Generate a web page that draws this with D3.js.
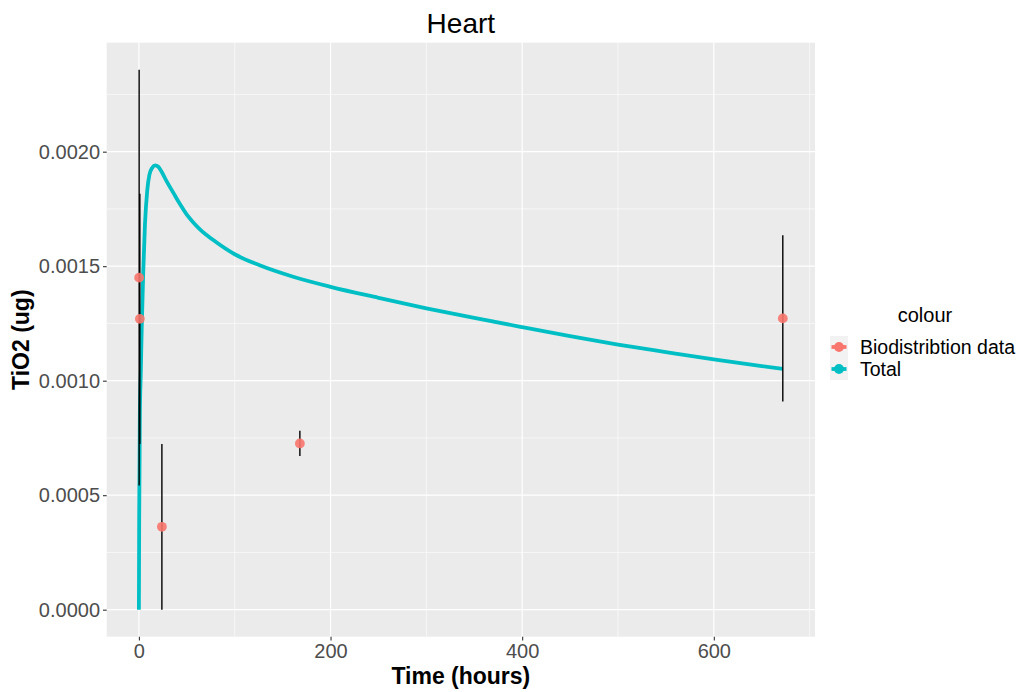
<!DOCTYPE html>
<html>
<head>
<meta charset="utf-8">
<script src="https://cdn.jsdelivr.net/npm/d3@7"></script>
<style>
  html, body { margin: 0; padding: 0; background: #ffffff; }
  svg { display: block; }
  text { font-family: "Liberation Sans", Arial, sans-serif; }
</style>
</head>
<body>
<svg id="chart" width="1030" height="692"></svg>
<script>
// ---- data ----
const chartTitle = "Heart";
const xTitle = "Time (hours)";
const yTitle = "TiO2 (ug)";
const legendTitle = "colour";
const seriesNames = ["Biodistribtion data", "Total"];
const seriesColors = ["#F8766D", "#00BFC4"];

// Biodistribution data (mean ± sd)
const bioTime = [0.25, 1, 24, 168, 672];
const bioMean = [0.00145, 0.00127, 0.000362, 0.000726, 0.001272];
const bioSD   = [0.000908, 0.000546, 0.000362, 0.000055, 0.000363];

// Model "Total" curve
const totalTime = [0, 0.3, 1, 2, 3, 4.5, 6.3, 8.7, 11, 14, 17, 20, 24, 29, 36, 43, 50, 57, 64, 78, 100, 126, 161, 200, 250, 300, 350, 400, 450, 500, 550, 600, 650, 672];
const totalVal  = [0, 0.0004, 0.00085, 0.00104, 0.00124, 0.00147, 0.00168, 0.00183, 0.0019, 0.00193, 0.00194, 0.001935, 0.00191, 0.00187, 0.00182, 0.00177, 0.001725, 0.00169, 0.00166, 0.001613, 0.001552, 0.001504, 0.001454, 0.00141, 0.001362, 0.001316, 0.001274, 0.001234, 0.001195, 0.001158, 0.001125, 0.001093, 0.001064, 0.001052];

const xTicks = [0, 200, 400, 600];
const xMinor = [100, 300, 500, 700];
const yTicks = [0, 0.0005, 0.001, 0.0015, 0.002];
const yMinor = [0.00025, 0.00075, 0.00125, 0.00175, 0.00225];

// ---- layout ----
const panel = { left: 106.7, right: 815, top: 42.7, bottom: 636.7 };
const svg = d3.select("#chart");

const bio = bioTime.map((t, i) => ({ t, m: bioMean[i], lo: bioMean[i] - bioSD[i], hi: bioMean[i] + bioSD[i] }));
const tot = totalTime.map((t, i) => ({ t, v: totalVal[i] }));

const xMin = Math.min(d3.min(bioTime), d3.min(totalTime));
const xMax = Math.max(d3.max(bioTime), d3.max(totalTime));
const xPad = (xMax - xMin) * 0.05;
const yMin = Math.min(d3.min(bio, d => d.lo), d3.min(totalVal));
const yMax = Math.max(d3.max(bio, d => d.hi), d3.max(totalVal));
const yPad = (yMax - yMin) * 0.05;

const x = d3.scaleLinear().domain([xMin - xPad, xMax + xPad]).range([panel.left, panel.right]);
const y = d3.scaleLinear().domain([yMin - yPad, yMax + yPad]).range([panel.bottom, panel.top]);

// panel background
svg.append("rect")
  .attr("x", panel.left).attr("y", panel.top)
  .attr("width", panel.right - panel.left).attr("height", panel.bottom - panel.top)
  .attr("fill", "#EBEBEB");

const grid = svg.append("g");
grid.selectAll(".ymin").data(yMinor).join("line")
  .attr("x1", panel.left).attr("x2", panel.right)
  .attr("y1", d => y(d)).attr("y2", d => y(d))
  .attr("stroke", "#ffffff").attr("stroke-width", 0.6);
grid.selectAll(".xmin").data(xMinor).join("line")
  .attr("y1", panel.top).attr("y2", panel.bottom)
  .attr("x1", d => x(d)).attr("x2", d => x(d))
  .attr("stroke", "#ffffff").attr("stroke-width", 0.6);
grid.selectAll(".ymaj").data(yTicks).join("line")
  .attr("x1", panel.left).attr("x2", panel.right)
  .attr("y1", d => y(d)).attr("y2", d => y(d))
  .attr("stroke", "#ffffff").attr("stroke-width", 1.2);
grid.selectAll(".xmaj").data(xTicks).join("line")
  .attr("y1", panel.top).attr("y2", panel.bottom)
  .attr("x1", d => x(d)).attr("x2", d => x(d))
  .attr("stroke", "#ffffff").attr("stroke-width", 1.2);

// Total line
const line = d3.line().x(d => x(d.t)).y(d => y(d.v)).curve(d3.curveMonotoneX);
svg.append("path").datum(tot)
  .attr("d", line)
  .attr("fill", "none")
  .attr("stroke", seriesColors[1])
  .attr("stroke-width", 3.8)
  .attr("stroke-linejoin", "round");

// error bars
svg.append("g").selectAll("line").data(bio).join("line")
  .attr("x1", d => x(d.t)).attr("x2", d => x(d.t))
  .attr("y1", d => y(d.lo)).attr("y2", d => y(d.hi))
  .attr("stroke", "#000000").attr("stroke-width", 1.4);

// points
svg.append("g").selectAll("circle").data(bio).join("circle")
  .attr("cx", d => x(d.t)).attr("cy", d => y(d.m))
  .attr("r", 4.9)
  .attr("fill", seriesColors[0]).attr("fill-opacity", 0.9);

// axes
const xAxis = d3.axisBottom(x).tickValues(xTicks).tickSize(3.7).tickPadding(3).tickFormat(d3.format("d"));
const gx = svg.append("g").attr("transform", `translate(0,${panel.bottom})`).call(xAxis);
gx.select(".domain").remove();
gx.selectAll(".tick line").attr("stroke", "#333333").attr("stroke-width", 1.1);
gx.selectAll(".tick text").attr("fill", "#4D4D4D").attr("font-size", 20)
  .attr("font-family", "'Liberation Sans', Arial, sans-serif");

const yAxis = d3.axisLeft(y).tickValues(yTicks).tickSize(3.7).tickPadding(3).tickFormat(d3.format(".4f"));
const gy = svg.append("g").attr("transform", `translate(${panel.left},0)`).call(yAxis);
gy.select(".domain").remove();
gy.selectAll(".tick line").attr("stroke", "#333333").attr("stroke-width", 1.1);
gy.selectAll(".tick text").attr("fill", "#4D4D4D").attr("font-size", 20)
  .attr("font-family", "'Liberation Sans', Arial, sans-serif");

// titles
svg.append("text")
  .attr("x", (panel.left + panel.right) / 2).attr("y", 33)
  .attr("text-anchor", "middle").attr("font-size", 28).attr("fill", "#000")
  .text(chartTitle);

svg.append("text")
  .attr("x", (panel.left + panel.right) / 2).attr("y", 684)
  .attr("text-anchor", "middle").attr("font-size", 23).attr("font-weight", "bold").attr("fill", "#000")
  .text(xTitle);

svg.append("text")
  .attr("transform", `translate(29,${(panel.top + panel.bottom) / 2}) rotate(-90)`)
  .attr("text-anchor", "middle").attr("font-size", 23).attr("font-weight", "bold").attr("fill", "#000")
  .text(yTitle);

// legend
const leg = svg.append("g");
leg.append("text")
  .attr("x", 925).attr("y", 322)
  .attr("text-anchor", "middle").attr("font-size", 20).attr("fill", "#000")
  .text(legendTitle);

const keyX = 830, keyW = 18, keyH = 22, keyY0 = 336;
seriesNames.forEach((name, i) => {
  const ky = keyY0 + i * keyH;
  leg.append("rect")
    .attr("x", keyX).attr("y", ky).attr("width", keyW).attr("height", keyH)
    .attr("fill", "#F2F2F2");
  leg.append("line")
    .attr("x1", keyX + 1.5).attr("x2", keyX + keyW - 1.5)
    .attr("y1", ky + keyH / 2).attr("y2", ky + keyH / 2)
    .attr("stroke", seriesColors[i]).attr("stroke-width", 3.8);
  leg.append("circle")
    .attr("cx", keyX + keyW / 2).attr("cy", ky + keyH / 2).attr("r", 4.9)
    .attr("fill", seriesColors[i]);
  leg.append("text")
    .attr("x", 860).attr("y", ky + keyH / 2 + 7)
    .attr("font-size", 19.5).attr("fill", "#000")
    .text(name);
});
</script>
</body>
</html>
